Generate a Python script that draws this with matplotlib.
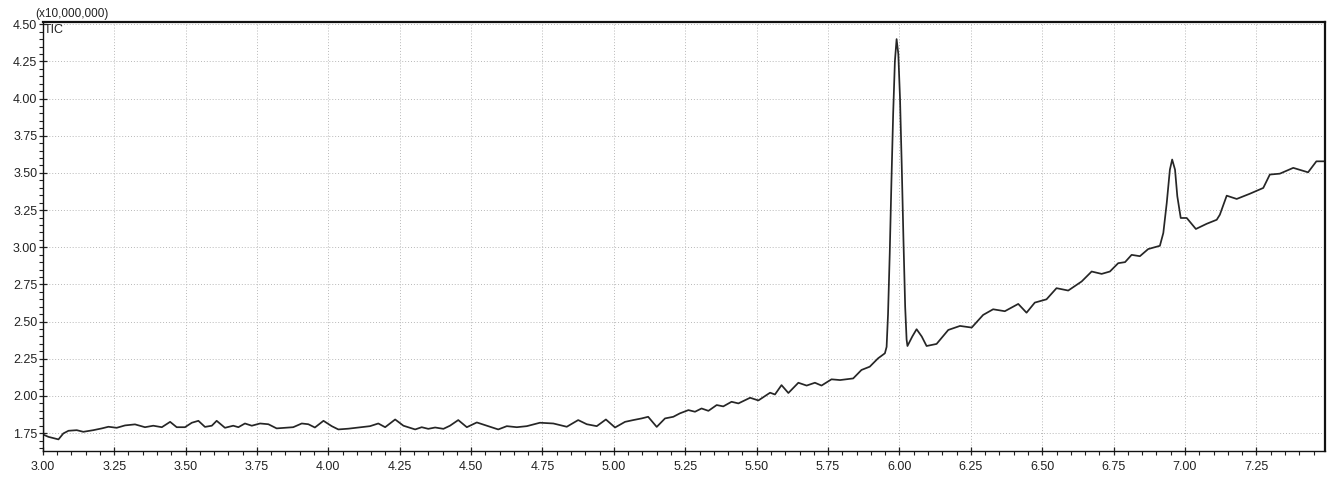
import matplotlib
matplotlib.use("Agg")
import matplotlib.pyplot as plt
from matplotlib.ticker import MultipleLocator

plt.rcParams['font.family'] = ['Liberation Sans', 'DejaVu Sans']

# Retention time (min) of the total ion chromatogram
time_min = [
    3.000, 3.002, 3.020, 3.055, 3.072, 3.090, 3.119, 3.142, 3.177, 3.207,
    3.230, 3.259, 3.288, 3.323, 3.358, 3.387, 3.417, 3.446, 3.469, 3.498,
    3.522, 3.545, 3.568, 3.592, 3.609, 3.638, 3.667, 3.685, 3.708, 3.732,
    3.761, 3.790, 3.819, 3.848, 3.877, 3.907, 3.930, 3.953, 3.983, 4.012,
    4.035, 4.070, 4.105, 4.146, 4.175, 4.199, 4.234, 4.263, 4.304, 4.327,
    4.350, 4.374, 4.403, 4.426, 4.455, 4.485, 4.520, 4.555, 4.595, 4.625,
    4.660, 4.695, 4.741, 4.788, 4.835, 4.875, 4.905, 4.940, 4.972, 5.004,
    5.039, 5.068, 5.097, 5.120, 5.150, 5.179, 5.208, 5.231, 5.261, 5.284,
    5.307, 5.331, 5.360, 5.383, 5.412, 5.436, 5.477, 5.506, 5.547, 5.564,
    5.587, 5.611, 5.646, 5.675, 5.704, 5.727, 5.762, 5.792, 5.838, 5.867,
    5.896, 5.925, 5.949, 5.955, 5.960, 5.966, 5.972, 5.978, 5.984, 5.990,
    5.996, 6.002, 6.008, 6.014, 6.020, 6.025, 6.028, 6.045, 6.060, 6.078,
    6.095, 6.130, 6.171, 6.212, 6.253, 6.293, 6.328, 6.369, 6.416, 6.445,
    6.474, 6.515, 6.550, 6.591, 6.638, 6.673, 6.708, 6.737, 6.766, 6.790,
    6.813, 6.842, 6.871, 6.912, 6.924, 6.936, 6.947, 6.955, 6.965, 6.973,
    6.985, 7.006, 7.038, 7.076, 7.111, 7.122, 7.146, 7.181, 7.227, 7.274,
    7.297, 7.332, 7.379, 7.431, 7.460, 7.496,
]

# Intensity (x10,000,000 counts)
tic_intensity = [
    2.50, 1.74, 1.725, 1.708, 1.748, 1.766, 1.770, 1.759, 1.770, 1.782,
    1.793, 1.786, 1.802, 1.809, 1.790, 1.800, 1.790, 1.826, 1.790, 1.790,
    1.820, 1.833, 1.792, 1.800, 1.833, 1.786, 1.800, 1.790, 1.815, 1.800,
    1.815, 1.810, 1.782, 1.786, 1.790, 1.815, 1.810, 1.788, 1.833, 1.797,
    1.775, 1.780, 1.788, 1.797, 1.815, 1.790, 1.842, 1.800, 1.775, 1.790,
    1.779, 1.788, 1.779, 1.800, 1.838, 1.790, 1.822, 1.800, 1.775, 1.797,
    1.790, 1.797, 1.820, 1.815, 1.793, 1.838, 1.810, 1.797, 1.842, 1.788,
    1.826, 1.838, 1.849, 1.860, 1.792, 1.849, 1.860, 1.883, 1.905, 1.894,
    1.916, 1.900, 1.939, 1.930, 1.961, 1.950, 1.988, 1.970, 2.022, 2.010,
    2.073, 2.020, 2.089, 2.070, 2.089, 2.070, 2.112, 2.107, 2.118, 2.175,
    2.197, 2.253, 2.287, 2.330, 2.550, 2.960, 3.450, 3.900, 4.250, 4.400,
    4.300, 4.000, 3.550, 3.050, 2.600, 2.380, 2.336, 2.400, 2.449, 2.400,
    2.336, 2.350, 2.444, 2.471, 2.460, 2.545, 2.583, 2.570, 2.619, 2.560,
    2.628, 2.650, 2.725, 2.709, 2.770, 2.837, 2.821, 2.837, 2.893, 2.900,
    2.949, 2.940, 2.988, 3.010, 3.096, 3.298, 3.522, 3.590, 3.522, 3.343,
    3.197, 3.197, 3.123, 3.158, 3.185, 3.219, 3.347, 3.325, 3.360, 3.399,
    3.489, 3.495, 3.534, 3.504, 3.578, 3.578,
]

x_tick_labels = ["3.00", "3.25", "3.50", "3.75", "4.00", "4.25", "4.50", "4.75",
                 "5.00", "5.25", "5.50", "5.75", "6.00", "6.25", "6.50", "6.75",
                 "7.00", "7.25"]
y_tick_labels = ["1.75", "2.00", "2.25", "2.50", "2.75", "3.00", "3.25", "3.50",
                 "3.75", "4.00", "4.25", "4.50"]

fig = plt.figure(figsize=(13.28, 4.78), dpi=100)
ax = fig.add_axes([0.0322, 0.0565, 0.9655, 0.8975])

ax.plot(time_min, tic_intensity, color="#262626", linewidth=1.25,
        solid_joinstyle="round")

ax.set_xlim(3.0, 7.49)
ax.set_ylim(1.63, 4.515)

ax.set_xticks([float(s) for s in x_tick_labels])
ax.set_xticklabels(x_tick_labels)
ax.set_yticks([float(s) for s in y_tick_labels])
ax.set_yticklabels(y_tick_labels)
ax.xaxis.set_minor_locator(MultipleLocator(0.05))
ax.yaxis.set_minor_locator(MultipleLocator(0.05))

ax.tick_params(axis="both", which="major", direction="inout", length=6,
               width=0.9, labelsize=9, colors="#222222")
ax.tick_params(axis="x", which="major", pad=4)
ax.tick_params(axis="y", which="major", pad=1)
ax.tick_params(axis="both", which="minor", direction="out", length=3,
               width=0.8, colors="#222222")

ax.grid(True, which="major", color="#b8b8b8", linestyle=(0, (1, 2)),
        linewidth=0.7)

for side, lw in (("top", 1.6), ("left", 1.0), ("right", 1.6), ("bottom", 1.0)):
    ax.spines[side].set_linewidth(lw)
    ax.spines[side].set_color("#111111")

ax.text(-0.006, 1.004, "(x10,000,000)", transform=ax.transAxes, fontsize=8.5,
        ha="left", va="bottom", color="#222222")
ax.text(0.001, 0.995, "TIC", transform=ax.transAxes, fontsize=9,
        ha="left", va="top", color="#222222")

fig.savefig("out.png", dpi=100, facecolor="white")
